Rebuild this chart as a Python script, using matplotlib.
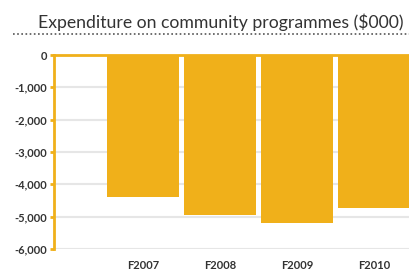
import matplotlib
matplotlib.use("Agg")
import matplotlib.pyplot as plt
from matplotlib.lines import Line2D
from matplotlib.ticker import FuncFormatter

categories = ["F2007", "F2008", "F2009", "F2010"]
values = [-4380, -4940, -5190, -4720]
yticks = [0, -1000, -2000, -3000, -4000, -5000, -6000]

W, H = 409, 272
fig = plt.figure(figsize=(W / 100, H / 100), dpi=100)
fig.patch.set_facecolor("white")

orange = "#F0B01A"
dark = "#333333"

ax = fig.add_axes([54 / W, 23 / H, (W - 54) / W, 194 / H])
x = list(range(len(categories)))
ax.bar(x, values, width=0.935, color=orange, zorder=3)
ax.set_xlim(-1.156, 3.45)
ax.set_ylim(-6000, 0)

ax.set_yticks(yticks)
ax.yaxis.set_major_formatter(FuncFormatter(lambda v, p: f"{int(v):,}"))
ax.grid(axis="y", color="#e6e6e6", linewidth=1.5, zorder=0)
ax.set_xticks(x)
ax.set_xticklabels(categories)

for s in ["right", "bottom"]:
    ax.spines[s].set_visible(False)
ax.spines["left"].set_color(orange)
ax.spines["left"].set_linewidth(2)
ax.spines["top"].set_color(orange)
ax.spines["top"].set_linewidth(2)
ax.spines["left"].set_zorder(4)
ax.spines["top"].set_zorder(4)

ax.tick_params(axis="y", colors=orange, length=3, width=2, pad=2, labelcolor=dark)
ax.tick_params(axis="x", length=0, pad=8, labelcolor=dark)
for lab in ax.get_yticklabels() + ax.get_xticklabels():
    lab.set_fontfamily("Lato")
    lab.set_fontweight("bold")
    lab.set_fontsize(8)

fig.text(38 / W, 1 - 22 / H, "Expenditure on community programmes ($000)",
         fontfamily="Lato", fontsize=12.7, color=dark, ha="left", va="center")
fig.add_artist(Line2D([13 / W, 1], [1 - 34 / H, 1 - 34 / H], transform=fig.transFigure,
                      color="#555555", linewidth=1.2, linestyle=(0, (1, 1.5))))

fig.savefig("out.png", dpi=100)
